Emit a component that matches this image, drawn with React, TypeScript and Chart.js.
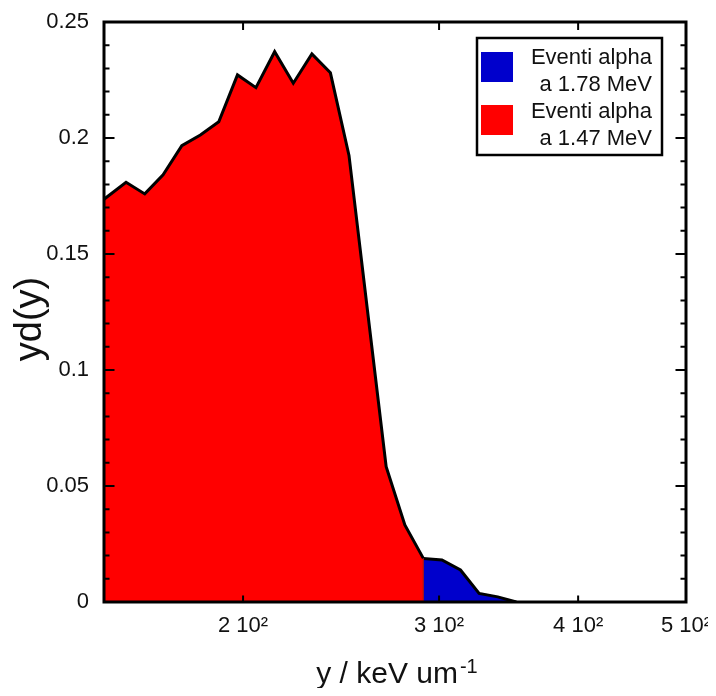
import React, { useEffect, useRef } from 'react';
import { Chart, registerables } from 'chart.js';

Chart.register(...registerables);

const FONT = "'Liberation Sans', Arial, Helvetica, sans-serif";

// Red series (1.47 MeV) — x in keV/um, y = yd(y)
const redX = [150, 157.0, 163.2, 169.5, 176.2, 183.1, 190.2, 197.7, 205.4, 213.5, 221.9, 230.6, 239.6, 249.0, 258.8, 268.9, 279.5, 290.4];
const redY = [0.1736, 0.1809, 0.1759, 0.1841, 0.1967, 0.2013, 0.207, 0.2272, 0.2217, 0.2372, 0.2236, 0.2362, 0.2281, 0.1925, 0.125, 0.0583, 0.0332, 0.0188];
// Blue series (1.78 MeV)
const blueX = [290.4, 301.8, 313.6, 325.9, 338.7, 352.0];
const blueY = [0.0188, 0.0181, 0.0138, 0.0037, 0.0022, 0];

const xTickValues = [200, 300, 400, 500];
const xTickLabels = ['2 10²', '3 10²', '4 10²', '5 10²'];
const yTickValues = [0, 0.05, 0.1, 0.15, 0.2, 0.25];
const yTickLabels = ['0', '0.05', '0.1', '0.15', '0.2', '0.25'];

const seriesLabels = [
  ['Eventi alpha', 'a 1.78 MeV'],
  ['Eventi alpha', 'a 1.47 MeV'],
];
const seriesColors = ['#0000cc', '#ff0000'];

const xTitle = 'y / keV um';
const xTitleSup = '-1';
const yTitle = 'yd(y)';

const framePlugin = {
  id: 'framePlugin',
  afterDatasetsDraw(chart: any) {
    const { ctx, chartArea: a, scales } = chart;
    const xs = scales.x;
    const ys = scales.y;
    ctx.save();
    // dark seam between red and blue areas
    const bx = xs.getPixelForValue(blueX[0]);
    ctx.strokeStyle = '#a0101a';
    ctx.lineWidth = 1.2;
    ctx.beginPath();
    ctx.moveTo(bx, ys.getPixelForValue(0));
    ctx.lineTo(bx, ys.getPixelForValue(blueY[0]));
    ctx.stroke();

    ctx.strokeStyle = '#000';
    ctx.lineWidth = 2;
    // y ticks (major every 0.05, minor every 0.01), both sides, inward
    for (let i = 0; i <= 25; i++) {
      const py = ys.getPixelForValue(i * 0.01);
      const len = i % 5 === 0 ? 10.5 : 5.5;
      ctx.beginPath();
      ctx.moveTo(a.left, py);
      ctx.lineTo(a.left + len, py);
      ctx.moveTo(a.right, py);
      ctx.lineTo(a.right - len, py);
      ctx.stroke();
    }
    // x ticks top and bottom
    xTickValues.forEach((v) => {
      const px = xs.getPixelForValue(v);
      if (px >= a.right - 1) return;
      ctx.beginPath();
      ctx.moveTo(px, a.bottom);
      ctx.lineTo(px, a.bottom - 6.5);
      ctx.moveTo(px, a.top);
      ctx.lineTo(px, a.top + 8);
      ctx.stroke();
    });
    // frame
    ctx.lineWidth = 3;
    ctx.strokeRect(a.left, a.top, a.right - a.left, a.bottom - a.top);
    ctx.restore();
  },
  afterDraw(chart: any) {
    const { ctx, chartArea: a } = chart;
    ctx.save();
    // axis titles
    ctx.fillStyle = '#111';
    ctx.font = `38px ${FONT}`;
    ctx.textAlign = 'center';
    ctx.textBaseline = 'middle';
    ctx.translate(23, (a.top + a.bottom) / 2 + 7);
    ctx.rotate(-Math.PI / 2);
    ctx.fillText(yTitle, 0, 0);
    ctx.setTransform(1, 0, 0, 1, 0, 0);

    ctx.textAlign = 'left';
    ctx.textBaseline = 'alphabetic';
    ctx.font = `30px ${FONT}`;
    const w1 = ctx.measureText(xTitle).width;
    ctx.font = `20px ${FONT}`;
    const w2 = ctx.measureText(xTitleSup).width;
    const cx = (a.left + a.right) / 2 + 2;
    const sx = cx - (w1 + w2 + 2) / 2;
    ctx.font = `30px ${FONT}`;
    ctx.fillText(xTitle, sx, 675);
    ctx.font = `20px ${FONT}`;
    ctx.fillText(xTitleSup, sx + w1 + 2, 665);

    // legend
    const lx = 469, ly = 30, lw = 185, lh = 117;
    ctx.fillStyle = '#fff';
    ctx.fillRect(lx, ly, lw, lh);
    ctx.strokeStyle = '#000';
    ctx.lineWidth = 2.5;
    ctx.strokeRect(lx, ly, lw, lh);
    const boxY = [44, 97];
    const baseY = [[56, 82.7], [110.3, 137]];
    ctx.font = `22px ${FONT}`;
    ctx.textAlign = 'right';
    seriesLabels.forEach((lines, i) => {
      ctx.fillStyle = seriesColors[i];
      ctx.fillRect(473, boxY[i], 32, 30);
      ctx.fillStyle = '#111';
      lines.forEach((t, j) => ctx.fillText(t, 644, baseY[i][j]));
    });
    ctx.restore();
  },
};

export default function App() {
  const ref = useRef<HTMLCanvasElement>(null);

  useEffect(() => {
    if (!ref.current) return;
    const chart = new Chart(ref.current, {
      type: 'line',
      data: {
        datasets: [
          {
            label: seriesLabels[0].join(' '),
            data: blueX.map((x, i) => ({ x, y: blueY[i] })),
            backgroundColor: seriesColors[0],
            borderColor: '#000',
            borderWidth: 3,
            fill: 'origin',
            pointRadius: 0,
            tension: 0,
          },
          {
            label: seriesLabels[1].join(' '),
            data: redX.map((x, i) => ({ x, y: redY[i] })),
            backgroundColor: seriesColors[1],
            borderColor: '#000',
            borderWidth: 3,
            fill: 'origin',
            pointRadius: 0,
            tension: 0,
          },
        ],
      },
      options: {
        responsive: false,
        animation: false,
        layout: { padding: { top: 14, right: 30, left: 0, bottom: 0 } },
        plugins: {
          legend: { display: false },
          tooltip: { enabled: false },
        },
        scales: {
          x: {
            type: 'logarithmic',
            min: 150,
            max: 500,
            grid: { display: false, drawTicks: false },
            border: { display: false },
            afterBuildTicks: (s: any) => {
              s.ticks = xTickValues.map((v) => ({ value: v }));
            },
            ticks: {
              callback: (v: any) => {
                const i = xTickValues.indexOf(Number(v));
                return i >= 0 ? xTickLabels[i] : '';
              },
              font: { family: FONT, size: 22 },
              color: '#111',
              padding: 11,
              maxRotation: 0,
              autoSkip: false,
            },
            afterFit: (s: any) => {
              s.height = 86;
              s.paddingLeft = 0;
              s.paddingRight = 0;
            },
          },
          y: {
            type: 'linear',
            min: 0,
            max: 0.25,
            grid: { display: false, drawTicks: false },
            border: { display: false },
            afterBuildTicks: (s: any) => {
              s.ticks = yTickValues.map((v) => ({ value: v }));
            },
            ticks: {
              callback: (v: any) => {
                const i = yTickValues.findIndex((t) => Math.abs(t - Number(v)) < 1e-9);
                return i >= 0 ? yTickLabels[i] : '';
              },
              font: { family: FONT, size: 22 },
              color: '#111',
              padding: 15,
              autoSkip: false,
            },
            afterFit: (s: any) => {
              s.width = 96;
              s.paddingTop = 0;
              s.paddingBottom = 0;
            },
          },
        },
      },
      plugins: [framePlugin],
    });
    return () => chart.destroy();
  }, []);

  return (
    <div style={{ width: 708, height: 680 }}>
      <canvas ref={ref} width={708} height={680} style={{ display: 'block' }} />
    </div>
  );
}
